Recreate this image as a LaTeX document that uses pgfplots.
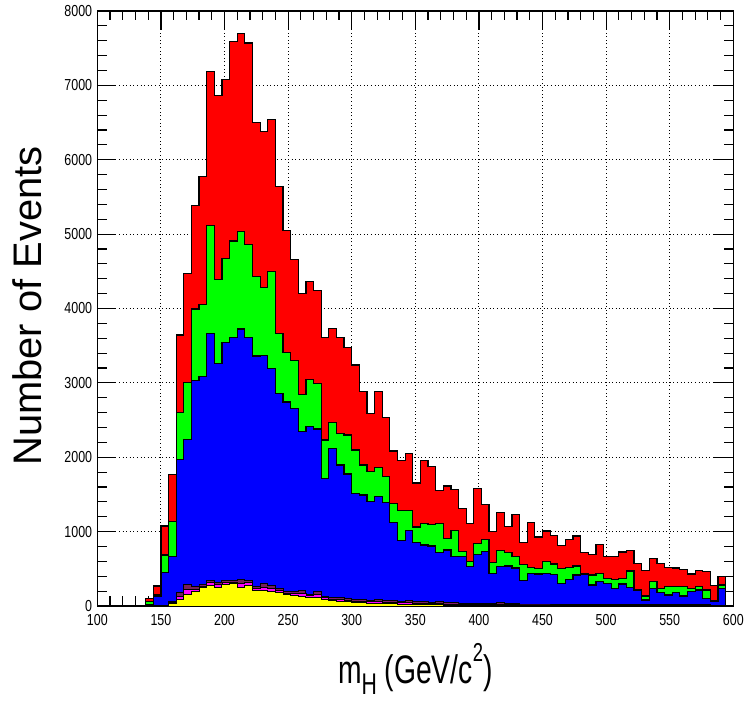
\documentclass[border=0pt]{standalone}
\usepackage{fontspec}
\setmainfont{Liberation Sans}
\usepackage{graphicx}
\usepackage{pgfplots}
\usepackage{pgfplotstable}
\pgfplotsset{compat=1.18}

\definecolor{hred}{RGB}{255,0,0}
\definecolor{hgreen}{RGB}{0,255,0}
\definecolor{hblue}{RGB}{0,0,255}
\definecolor{hyellow}{RGB}{255,255,0}
\definecolor{hmag}{RGB}{255,0,255}
\definecolor{hdark}{RGB}{120,30,90}

% bin left edge, cumulative stack tops (6 GeV bins)
\pgfplotstableread{
x red green blue small mag yellow
100 0 0 0 0 0 0
138 105 60 20 0 0 0
144 268 150 134 5 2 0
150 1075 685 448 9 7 5
156 1770 1133 663 67 50 36
162 3643 2605 1972 179 130 90
168 4468 3001 2244 291 225 161
174 5385 3992 3028 260 225 193
180 5774 4059 3082 291 270 251
186 7190 5111 3665 349 315 282
192 6861 4395 3262 314 285 251
198 7074 4673 3539 340 315 291
204 7590 4908 3611 349 322 296
210 7696 5038 3723 358 305 251
216 7570 4858 3606 349 315 282
222 6500 4435 3360 260 230 202
228 6375 4278 3373 296 255 215
234 6545 4502 3194 269 230 193
240 5645 3665 2862 233 205 175
246 5050 3405 2742 193 175 155
252 4660 3306 2657 193 165 140
258 4203 2849 2345 206 165 125
264 4368 3047 2415 161 140 120
270 4247 2993 2379 197 150 110
276 3611 2231 1716 134 112 92
282 3732 2469 2119 112 95 76
288 3611 2321 1895 110 88 67
294 3477 2298 1774 95 76 58
300 3239 2097 1514 85 65 45
306 2880 1895 1492 90 68 45
312 2590 1805 1400 80 58 36
318 2880 1860 1469 85 60 36
324 2531 1738 1388 75 54 32
330 2083 1380 1120 70 49 28
336 1960 1285 878 65 45 25
342 2052 1280 1012 75 48 22
348 1655 1062 851 60 40 20
354 1953 1111 820 55 36 18
360 1880 1095 806 50 33 16
366 1548 1110 717 55 34 14
372 1613 910 753 45 28 12
378 1568 1012 663 45 28 11
384 1313 730 663 40 25 10
390 1108 600 528 40 24 9
396 1582 838 690 35 21 8
402 1365 896 730 35 21 7
408 998 585 435 30 18 6
414 1254 750 528 45 25 5
420 1070 715 538 30 17 5
426 1232 668 510 30 17 4
432 851 558 345 25 14 4
438 1120 520 439 25 14 3
444 928 506 430 25 14 3
450 1008 596 439 25 14 3
456 945 564 426 25 13 2
462 815 506 305 20 11 2
468 893 520 358 20 11 2
474 941 538 417 25 13 2
480 717 440 430 25 13 2
486 690 417 282 20 11 2
492 829 439 327 20 11 2
498 663 372 305 20 10 1
504 663 358 237 20 10 1
510 725 372 296 25 13 1
516 744 470 251 20 10 1
522 573 215 215 15 8 1
528 472 134 81 15 8 1
534 641 327 237 15 8 1
540 573 237 179 15 8 1
546 517 260 148 15 8 1
552 510 260 179 15 8 1
558 493 260 134 15 8 1
564 430 237 193 15 8 1
570 475 260 215 15 8 1
576 459 215 103 15 8 1
582 271 67 67 10 5 1
588 394 282 237 10 5 1
594 0 0 0 0 0 0
600 0 0 0 0 0 0
}\hdata

\begin{document}
\begin{tikzpicture}
\begin{axis}[
  at={(0,0)}, anchor=south west,
  scale only axis, width=636bp, height=595bp,
  xmin=100, xmax=600, ymin=0, ymax=8000,
  xtick={100,150,...,600}, ytick={0,1000,...,8000},
  minor x tick num=4, minor y tick num=4,
  tick align=inside, tick pos=both,
  major tick length=19bp, minor tick length=9.5bp,
  every tick/.style={black, line width=1.2bp},
  axis line style={black, line width=1.4bp},
  grid=major,
  major grid style={black, line width=0.9bp, dash pattern=on 0.9bp off 2.7bp},
  /pgf/number format/assume math mode=true,
  /pgf/number format/1000 sep={},
  xticklabel={\scalebox{0.78}[1]{\pgfmathprintnumber{\tick}}},
  yticklabel={\scalebox{0.78}[1]{\pgfmathprintnumber{\tick}}},
  xticklabel style={font=\fontsize{16}{16}\selectfont, inner sep=0pt, anchor=north, yshift=-8bp},
  yticklabel style={font=\fontsize{16}{16}\selectfont, inner sep=0pt, anchor=east, xshift=-5bp},
]
\addplot[const plot mark left, draw=black, line width=1.2bp, fill=hred] table[x=x,y=red]{\hdata} \closedcycle;
\addplot[const plot mark left, draw=black, line width=1.2bp, fill=hgreen] table[x=x,y=green]{\hdata} \closedcycle;
\addplot[const plot mark left, draw=black, line width=1.2bp, fill=hblue] table[x=x,y=blue]{\hdata} \closedcycle;
\addplot[const plot mark left, draw=black, line width=1.0bp, fill=hdark] table[x=x,y=small]{\hdata} \closedcycle;
\addplot[const plot mark left, draw=black, line width=0.8bp, fill=hmag] table[x=x,y=mag]{\hdata} \closedcycle;
\addplot[const plot mark left, draw=black, line width=1.0bp, fill=hyellow] table[x=x,y=yellow]{\hdata} \closedcycle;
\end{axis}
\node[rotate=90, font=\fontsize{40}{40}\selectfont, anchor=center] at (-70.3bp, 300bp) {Number of Events};
\node[anchor=base, font=\fontsize{40}{40}\selectfont] at (318bp, -77bp)
  {\scalebox{0.71}[1]{m\raisebox{-0.3em}{\fontsize{30}{30}\selectfont H} (GeV/c\raisebox{0.55em}{\fontsize{26}{26}\selectfont 2})}};
\pgfresetboundingbox
\path[use as bounding box] (-97.3bp,-98bp) rectangle (648.7bp,606bp);
\end{tikzpicture}
\end{document}
